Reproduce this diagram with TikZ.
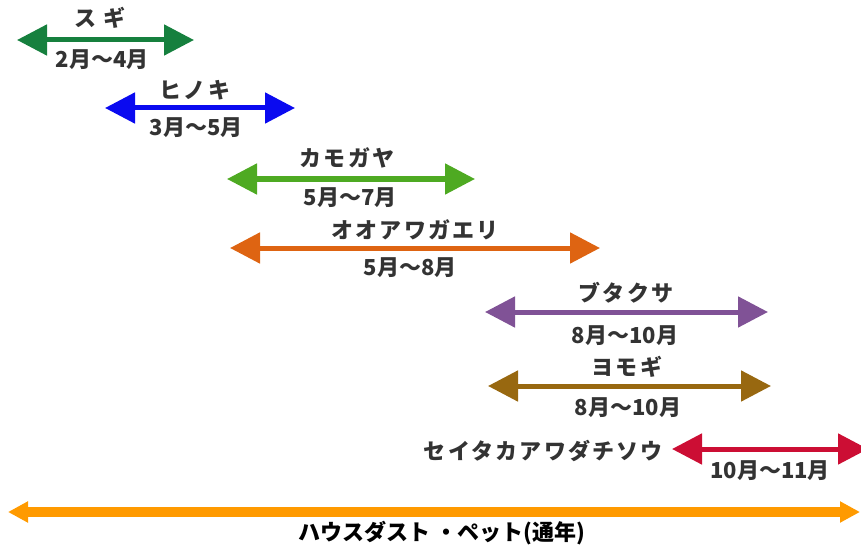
\documentclass[tikz,border=0pt]{standalone}
\usepackage{fontspec}
\usetikzlibrary{arrows.meta}
\newfontfamily\jpfont[LetterSpace=10]{Noto Sans CJK JP}
\newfontfamily\jpplain{Noto Sans CJK JP}

\definecolor{sugigreen}{RGB}{22,128,62}
\definecolor{hinokiblue}{RGB}{10,10,240}
\definecolor{kamogreen}{RGB}{78,170,34}
\definecolor{ooawaorange}{RGB}{222,100,18}
\definecolor{butapurple}{RGB}{128,82,150}
\definecolor{yomobrown}{RGB}{152,104,16}
\definecolor{seitakared}{RGB}{204,14,52}
\definecolor{dustorange}{RGB}{255,154,0}

\begin{document}
\begin{tikzpicture}[x=1pt,y=-1pt,
        span/.style={line width=5pt, {Triangle[length=30pt,width=30pt]}-{Triangle[length=30pt,width=30pt]}},
        lbl/.style={font=\jpfont\bfseries\fontsize{22}{26}\selectfont, text=black!80, inner sep=0pt},
        mon/.style={lbl, font=\jpplain\bfseries\fontsize{22}{26}\selectfont}]
        \useasboundingbox (0,0) rectangle (861,548);

        \coordinate (sugiL) at (17,40);      \coordinate (sugiR) at (194,40);      % sugi
        \coordinate (hinokiL) at (105,108);  \coordinate (hinokiR) at (295,108);   % hinoki
        \coordinate (kamoL) at (227,179);    \coordinate (kamoR) at (475,179);     % kamogaya
        \coordinate (ooawaL) at (230,248);   \coordinate (ooawaR) at (600,248);    % ooawagaeri
        \coordinate (butaL) at (485,312);    \coordinate (butaR) at (768,312);     % butakusa
        \coordinate (yomoL) at (488,386);    \coordinate (yomoR) at (771,386);     % yomogi
        \coordinate (seitakaL) at (672,449); \coordinate (seitakaR) at (868,449);  % seitaka
        \coordinate (dustL) at (8,512);      \coordinate (dustR) at (860,512);     % house dust

        \draw[span, sugigreen] (sugiL) -- (sugiR);
        \draw[span, hinokiblue] (hinokiL) -- (hinokiR);
        \draw[span, kamogreen] (kamoL) -- (kamoR);
        \draw[span, ooawaorange] (ooawaL) -- (ooawaR);
        \draw[span, butapurple] (butaL) -- (butaR);
        \draw[span, yomobrown] (yomoL) -- (yomoR);
        \draw[span, seitakared] (seitakaL) -- (seitakaR);
        \draw[line width=10pt, dustorange, {Triangle[length=20pt,width=20pt]}-{Triangle[length=20pt,width=20pt]}] (dustL) -- (dustR);

        \node[lbl](sugi) at (100,18) {ス ギ};
        \node[mon](sugim) at (102,60) {2月～4月};
        \node[lbl](hinoki) at (195,90) {ヒノキ};
        \node[mon](hinokim) at (196,128) {3月～5月};
        \node[lbl](kamo) at (347,158) {カモガヤ};
        \node[mon](kamom) at (350,198) {5月～7月};
        \node[lbl](ooawa) at (415,230) {オオアワガエリ};
        \node[mon](ooawam) at (410,268) {5月～8月};
        \node[lbl](buta) at (626,293) {ブタクサ};
        \node[mon](butam) at (625,336) {8月～10月};
        \node[lbl](yomo) at (627,367) {ヨモギ};
        \node[mon](yomom) at (628,408) {8月～10月};
        \node[lbl, anchor=east](seitaka) at (663,451) {セイタカアワダチソウ};
        \node[mon](seitakam) at (770,471) {10月～11月};
        \node[mon, text=black](dust) at (442,533) {ハウスダスト ・ペット(通年)};

    \end{tikzpicture}
\end{document}
